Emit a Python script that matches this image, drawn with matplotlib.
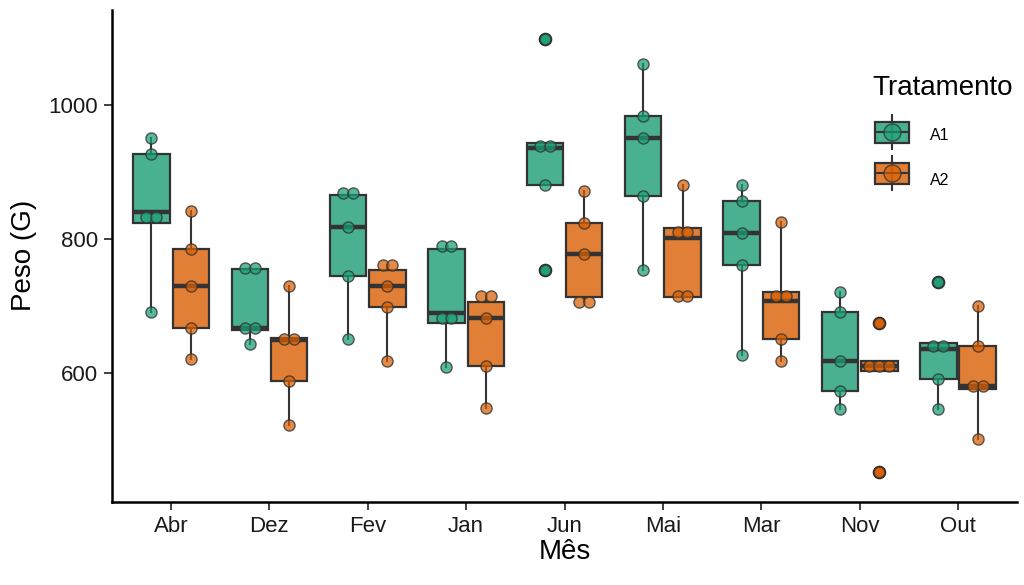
import numpy as np
import matplotlib.pyplot as plt
from matplotlib.colors import to_rgba
from matplotlib.patches import Rectangle

plt.rcParams['font.family'] = ['Liberation Sans', 'DejaVu Sans']

meses = ['Abr', 'Dez', 'Fev', 'Jan', 'Jun', 'Mai', 'Mar', 'Nov', 'Out']
tratamentos = ['A1', 'A2']
cores = ['#1B9E77', '#D95F02']

a1_pontos = [
    [951, 927, 832, 832, 690],
    [757, 757, 667, 667, 642],
    [868, 868, 817, 745, 650],
    [789, 789, 681, 681, 609],
    [1098, 939, 939, 880, 753],
    [1062, 983, 951, 864, 754],
    [881, 856, 809, 761, 626],
    [721, 690, 618, 572, 546],
    [735, 640, 640, 590, 545],
]
a2_pontos = [
    [841, 784, 729, 666, 620],
    [729, 650, 650, 587, 522],
    [761, 761, 729, 698, 618],
    [714, 714, 682, 610, 547],
    [872, 824, 777, 705, 705],
    [881, 810, 810, 714, 714],
    [825, 714, 714, 650, 618],
    [674, 610, 610, 610, 452],
    [700, 640, 580, 580, 500],
]

# estatísticas das caixas (quartis, mediana, bigodes, outliers)
a1_q1 = [823, 664, 745, 674, 880, 864, 761, 572, 590]
a1_med = [840, 667, 817, 689, 936, 951, 809, 618, 635]
a1_q3 = [927, 755, 865, 784, 943, 983, 856, 690, 644]
a1_min = [690, 642, 650, 609, 880, 754, 626, 546, 545]
a1_max = [951, 757, 868, 789, 943, 1062, 881, 721, 644]
a1_out = [[], [], [], [], [1098, 753], [], [], [], [735]]

a2_q1 = [666, 587, 698, 610, 713, 713, 650, 602, 575]
a2_med = [729, 649, 729, 682, 777, 801, 707, 610, 580]
a2_q3 = [784, 652, 753, 705, 824, 816, 720, 618, 640]
a2_min = [620, 522, 618, 547, 705, 713, 618, 602, 500]
a2_max = [841, 729, 761, 714, 872, 881, 825, 618, 700]
a2_out = [[], [], [], [], [], [], [], [674, 452], []]

dados = [
    (a1_pontos, a1_q1, a1_med, a1_q3, a1_min, a1_max, a1_out),
    (a2_pontos, a2_q1, a2_med, a2_q3, a2_min, a2_max, a2_out),
]

cinza = '#333333'


def deslocamentos(valores):
    # pontos repetidos ficam lado a lado
    desl = []
    for i, v in enumerate(valores):
        iguais = [j for j, w in enumerate(valores) if w == v]
        k = len(iguais)
        r = iguais.index(i)
        desl.append((r - (k - 1) / 2) * 0.1)
    return desl


fig = plt.figure(figsize=(10.24, 5.85), dpi=100)
ax = fig.add_axes([0.1094, 0.1424, 0.8838, 0.8405])

x = np.arange(len(meses))
for t, (cor, (pontos, q1, med, q3, mn, mx, out)) in enumerate(zip(cores, dados)):
    pos = x + (-0.2 if t == 0 else 0.2)
    stats = []
    for i in range(len(meses)):
        stats.append({'q1': q1[i], 'med': med[i], 'q3': q3[i],
                      'whislo': mn[i], 'whishi': mx[i], 'fliers': out[i]})
    ax.bxp(stats, positions=pos, widths=0.37, patch_artist=True,
           showcaps=False,
           boxprops=dict(facecolor=to_rgba(cor, 0.8), edgecolor=cinza, linewidth=1.6),
           medianprops=dict(color=cinza, linewidth=3.2),
           whiskerprops=dict(color=cinza, linewidth=1.5),
           flierprops=dict(marker='o', markerfacecolor=cor, markeredgecolor='#222222',
                           markeredgewidth=1.6, markersize=8.2, alpha=0.95),
           zorder=2)
    for i in range(len(meses)):
        desl = deslocamentos(pontos[i])
        ax.scatter(pos[i] + np.array(desl), pontos[i], s=64,
                   facecolor=to_rgba(cor, 0.72), edgecolor=to_rgba(cinza, 0.8),
                   linewidth=1.0, zorder=3)

ax.set_xlim(-0.6, len(meses) - 0.4)
ax.set_ylim(407, 1142)
ax.set_xticks(x)
ax.set_xticklabels(meses)
ax.set_yticks([600, 800, 1000])
ax.tick_params(labelsize=16, labelcolor='#1a1a1a', color=cinza, length=6, width=1.3, pad=4)
ax.spines['top'].set_visible(False)
ax.spines['right'].set_visible(False)
ax.spines['left'].set_linewidth(1.8)
ax.spines['bottom'].set_linewidth(1.8)
ax.set_xlabel('Mês', fontsize=20, labelpad=2)
ax.set_ylabel('Peso (G)', fontsize=20, labelpad=8)

# legenda desenhada à mão, como no original
lax = fig.add_axes([0, 0, 1, 1])
lax.set_xlim(0, 1024)
lax.set_ylim(585, 0)
lax.axis('off')
lax.text(872, 95, 'Tratamento', fontsize=20, va='baseline', ha='left')
for k, (nome, cor) in enumerate(zip(tratamentos, cores)):
    yc = 132 + 41 * k
    lax.plot([892, 892], [yc - 17, yc + 17], color=cinza, lw=1.5, zorder=1)
    lax.add_patch(Rectangle((875, yc - 10.5), 34, 21, facecolor=to_rgba(cor, 0.8),
                            edgecolor=cinza, lw=1.6, zorder=2))
    lax.plot([875, 909], [yc, yc], color=cinza, lw=1.5, zorder=3)
    lax.scatter([892], [yc], s=150, facecolor=to_rgba(cor, 0.65),
                edgecolor=to_rgba(cinza, 0.8), linewidth=1.0, zorder=4)
    lax.text(930, 140 + 45 * k, nome, fontsize=11.5, va='baseline', ha='left')

plt.savefig('out.png', dpi=100)
